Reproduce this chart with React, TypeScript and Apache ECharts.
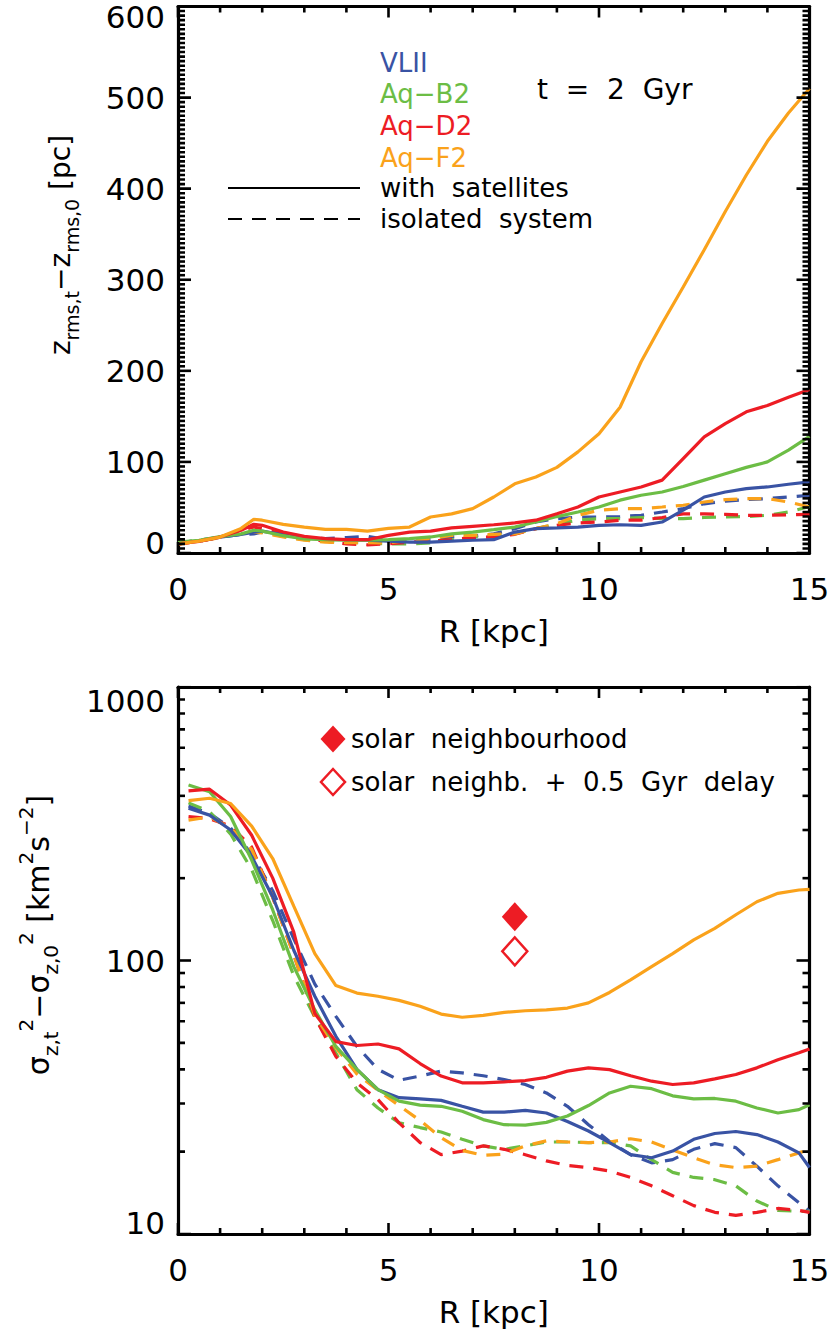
import { useEffect, useRef } from "react";
import * as echarts from "echarts";

// ---------- data ----------
const R_TOP = [0, 0.5, 1, 1.5, 1.8, 2, 2.5, 3, 3.5, 4, 4.5, 5, 5.5, 6, 6.5, 7, 7.5, 8, 8.5, 9, 9.5, 10, 10.5, 11, 11.5, 12, 12.5, 13, 13.5, 14, 14.5, 15];

const VLII_ZRMS_SAT = [11, 13, 17.5, 20.5, 23, 24, 20, 16.5, 15, 14.6, 14, 13, 12, 12, 13, 14, 14.6, 23, 26.7, 27.5, 28.5, 30.4, 31, 30.4, 34, 47, 61.5, 67, 70.7, 72.5, 75.5, 78];
const AQB2_ZRMS_SAT = [12, 14, 18, 21, 25, 24, 19, 15.4, 14.6, 14, 14, 14.6, 15.8, 17.6, 21, 23, 25.6, 28.5, 34, 40, 45, 50.5, 58, 63.4, 67, 73, 80, 87, 94, 100, 113, 128];
const AQD2_ZRMS_SAT = [10, 12.8, 17.5, 25, 31.5, 30.4, 23, 18.3, 15.8, 14.6, 14.6, 19.4, 23, 24, 27.5, 29.3, 31, 33, 36, 43, 50.5, 61.5, 67, 72.5, 80, 103.7, 127.5, 142, 155, 162, 171, 179.5];
const AQF2_ZRMS_SAT = [10, 13, 17.5, 27, 37, 36, 31.5, 28.5, 26, 26, 24, 27, 28.5, 39.5, 43, 48.7, 61.5, 76, 83.5, 94, 111, 131, 160, 210, 252, 292, 333, 375, 415, 452, 483, 510];

const VLII_ZRMS_ISO = [11, 14, 17.5, 20.5, 21, 23, 19.4, 17, 15.8, 17, 18.3, 14.6, 14, 14.6, 17.6, 18.3, 21, 26.7, 34, 37.7, 39.5, 39.5, 40, 41.4, 45, 48.7, 54, 57, 58.6, 59.7, 61.5, 63.4];
const AQB2_ZRMS_ISO = [11, 14, 17.5, 21, 24, 23, 18.3, 14.6, 13, 12, 11, 10, 10, 11, 14.6, 17.6, 19.4, 21, 26.7, 32, 36, 37.7, 37.7, 39, 37.7, 37.7, 39, 39.5, 40, 41.4, 45, 51];
const AQD2_ZRMS_ISO = [10, 13, 17.5, 25, 28.5, 26.7, 20.5, 15.8, 13, 10, 9, 10, 12, 13, 14.6, 17, 17.6, 20.5, 26.7, 30.4, 33, 34, 36, 36, 39, 43, 43, 42.5, 41.4, 41.4, 42, 42.5];
const AQF2_ZRMS_ISO = [9.5, 13, 17, 23, 23, 22, 17.6, 14, 12, 11.4, 11.4, 11, 14, 15.8, 19.4, 19.4, 20.5, 21, 26.7, 32, 41.4, 47, 48.7, 48.7, 50.5, 52.4, 56, 58.6, 59.7, 59.7, 56, 50.5];

const R_BOT = [0.25, 0.75, 1.25, 1.75, 2.25, 2.75, 3.25, 3.75, 4.25, 4.75, 5.25, 5.75, 6.25, 6.75, 7.25, 7.75, 8.25, 8.75, 9.25, 9.75, 10.25, 10.75, 11.25, 11.75, 12.25, 12.75, 13.25, 13.75, 14.25, 14.75, 15];

const VLII_SIG_SAT = [360, 340, 300, 240, 171, 109, 74, 52.8, 40, 33.7, 31.5, 31.2, 30.8, 29.3, 27.9, 27.9, 28.3, 27.7, 25.8, 23.8, 21.6, 19.5, 19, 20.1, 22.2, 23.3, 23.7, 23.1, 21.7, 19.8, 17.5];
const AQB2_SIG_SAT = [438, 414, 336, 233, 153, 95, 66, 48.5, 40, 33.7, 30.6, 29.6, 29.3, 28.1, 26.2, 25.1, 25, 25.6, 27, 29.5, 32.8, 34.7, 34, 32, 31.2, 31.3, 30.6, 28.9, 27.7, 28.5, 29.7];
const AQD2_SIG_SAT = [417, 423, 370, 287, 200, 127, 64, 50.5, 48.9, 49.5, 47.5, 42, 37.8, 35.7, 35.7, 36, 36.4, 37.4, 39.4, 40.5, 39.9, 37.9, 36.2, 35.2, 35.7, 36.9, 38.3, 40.5, 43.4, 46, 47.5];
const AQF2_SIG_SAT = [384, 392, 375, 310, 236, 158, 106, 81, 76, 74, 71.5, 68, 63.7, 62, 63, 64.6, 65.5, 66, 67, 70, 76.4, 85, 95, 106, 119, 131, 147, 164, 176, 181, 182];

const VLII_SIG_ISO = [367, 345, 305, 245, 180, 120, 82, 62.5, 48.5, 40, 36.5, 37.8, 39.4, 38.8, 37.9, 36.7, 35.2, 32.8, 29.3, 25.1, 21.8, 19.5, 18.2, 18.7, 20.4, 21.4, 20.7, 17.7, 15, 13, 12.1];
const AQB2_SIG_ISO = [377, 350, 290, 215, 140, 88, 62, 45.9, 33.7, 28.9, 25.5, 24.5, 23.6, 22.2, 21, 20.4, 21, 21.7, 21.7, 21.6, 21.6, 21, 18.7, 16.8, 16.1, 15.8, 15, 13.2, 12.2, 12.1, 12.1];
const AQD2_SIG_ISO = [336, 330, 310, 260, 170, 105, 62, 44.6, 35.7, 31, 25.5, 21.6, 19.5, 20.1, 21, 20.4, 19.5, 18.5, 17.8, 17.5, 17, 16.1, 15, 13.8, 12.7, 12, 11.7, 12, 12.4, 12.2, 12];
const AQF2_SIG_ISO = [326, 335, 305, 255, 170, 105, 63, 48, 38.5, 33.5, 29.5, 26, 22.5, 20.2, 19.4, 19.6, 21, 21.9, 21.7, 21.6, 21.7, 22.3, 21.7, 20.3, 19, 17.9, 17.5, 17.7, 18.7, 19.8, 20.4];

const SOLAR_R = 8;
const SOLAR_SIG = 144.5;
const SOLAR_DELAY_SIG = 108;

const X_MIN = 0;
const X_MAX = 15;
const X_MAJOR_TICKS = [0, 5, 10, 15];
const X_MINOR_TICKS = [1, 2, 3, 4, 6, 7, 8, 9, 11, 12, 13, 14];
const Y_TOP_MAX = 600;
const Y_TOP_INTERVAL = 100;
const Y_TOP_MAJOR_TICKS = [0, 100, 200, 300, 400, 500, 600];
const Y_TOP_MINOR_STEP = 5;
const Y_BOT_MIN = 10;
const Y_BOT_MAX = 1000;
const LOG_MAJOR_TICKS = [10, 100, 1000];
const LOG_MINOR_TICKS = [20, 30, 40, 50, 60, 70, 80, 90, 200, 300, 400, 500, 600, 700, 800, 900];

const SIM_NAMES = ["VLII", "Aq\u2212B2", "Aq\u2212D2", "Aq\u2212F2"];
const COLORS = ["#3953a4", "#6cbd45", "#ed1c24", "#faa21b"];

// ---------- layout / style ----------
const FONT = "DejaVu Sans";
const BLACK = "#000";
const DASH = [14, 10];
const GRID_W = 631.5;
const GRID_H = 547;
const MAJOR_LEN = 13;
const MINOR_LEN = 7;
const TICK_W = 2.6;

export default function App() {
  const ref = useRef<HTMLDivElement>(null);
  const dbg = useRef<HTMLDivElement>(null);

  useEffect(() => {
    if (!ref.current) return;
    const onErr = (ev: any) => {
      if (dbg.current) dbg.current.textContent = "err: " + String((ev && (ev.message || (ev.reason && ev.reason.message))) || ev);
    };
    window.addEventListener("error", onErr);
    window.addEventListener("unhandledrejection", onErr);

    const chart = echarts.init(ref.current, null, { renderer: "svg" });

    const pair = (xs: number[], ys: number[]) => xs.map((x, i) => [x, ys[i]]);

    const series: any[] = [];

    // ---- tick marks first: each one a two-point line placed through the axes' scales ----
    const yTopMinor: number[] = [];
    for (let v = 0; v <= Y_TOP_MAX; v += Y_TOP_MINOR_STEP) if (v % Y_TOP_INTERVAL !== 0) yTopMinor.push(v);

    const xPerPx = (X_MAX - X_MIN) / GRID_W;
    const yLinPerPx = Y_TOP_MAX / GRID_H;
    const decPerPx = Math.log10(Y_BOT_MAX / Y_BOT_MIN) / GRID_H;

    const tick = (gi: number, a: number[], b: number[]) =>
      series.push({
        type: "line",
        xAxisIndex: gi,
        yAxisIndex: gi,
        data: [a, b],
        showSymbol: false,
        symbol: "none",
        silent: true,
        lineStyle: { color: BLACK, width: TICK_W },
        z: 4,
      });

    const topX = (vals: number[], len: number) =>
      vals.forEach((v) => {
        tick(0, [v, 0], [v, len * yLinPerPx]);
        tick(0, [v, Y_TOP_MAX], [v, Y_TOP_MAX - len * yLinPerPx]);
      });
    const botX = (vals: number[], len: number) =>
      vals.forEach((v) => {
        tick(1, [v, Y_BOT_MIN], [v, Y_BOT_MIN * Math.pow(10, len * decPerPx)]);
        tick(1, [v, Y_BOT_MAX], [v, Y_BOT_MAX / Math.pow(10, len * decPerPx)]);
      });
    const sideY = (gi: number, vals: number[], len: number) =>
      vals.forEach((v) => {
        tick(gi, [X_MIN, v], [X_MIN + len * xPerPx, v]);
        tick(gi, [X_MAX, v], [X_MAX - len * xPerPx, v]);
      });

    topX(X_MAJOR_TICKS, MAJOR_LEN - 2);
    topX(X_MINOR_TICKS, MINOR_LEN - 1);
    sideY(0, Y_TOP_MAJOR_TICKS, MAJOR_LEN);
    sideY(0, yTopMinor, MINOR_LEN);
    botX(X_MAJOR_TICKS, MAJOR_LEN - 2);
    botX(X_MINOR_TICKS, MINOR_LEN - 1);
    sideY(1, LOG_MAJOR_TICKS, MAJOR_LEN);
    sideY(1, LOG_MINOR_TICKS, MINOR_LEN);

    // ---- curves ----
    const topSat = [VLII_ZRMS_SAT, AQB2_ZRMS_SAT, AQD2_ZRMS_SAT, AQF2_ZRMS_SAT];
    const topIso = [VLII_ZRMS_ISO, AQB2_ZRMS_ISO, AQD2_ZRMS_ISO, AQF2_ZRMS_ISO];
    const botSat = [VLII_SIG_SAT, AQB2_SIG_SAT, AQD2_SIG_SAT, AQF2_SIG_SAT];
    const botIso = [VLII_SIG_ISO, AQB2_SIG_ISO, AQD2_SIG_ISO, AQF2_SIG_ISO];

    const lineSeries = (data: any[], color: string, dashed: boolean, gi: number) => ({
      type: "line",
      xAxisIndex: gi,
      yAxisIndex: gi,
      data,
      showSymbol: false,
      symbol: "none",
      silent: true,
      lineStyle: { color, width: 3.2, type: dashed ? DASH : "solid" },
      z: dashed ? 2 : 3,
    });

    for (let i = 0; i < 4; i++) series.push(lineSeries(pair(R_TOP, topIso[i]), COLORS[i], true, 0));
    for (let i = 0; i < 4; i++) series.push(lineSeries(pair(R_TOP, topSat[i]), COLORS[i], false, 0));
    for (let i = 0; i < 4; i++) series.push(lineSeries(pair(R_BOT, botIso[i]), COLORS[i], true, 1));
    for (let i = 0; i < 4; i++) series.push(lineSeries(pair(R_BOT, botSat[i]), COLORS[i], false, 1));

    // ---- solar neighbourhood points (single-point line series with diamond symbols) ----
    series.push({
      type: "line",
      xAxisIndex: 1,
      yAxisIndex: 1,
      data: [[SOLAR_R, SOLAR_SIG]],
      symbol: "diamond",
      symbolSize: [26, 29],
      showSymbol: true,
      itemStyle: { color: COLORS[2] },
      lineStyle: { width: 0, opacity: 0 },
      silent: true,
      z: 5,
    });
    series.push({
      type: "line",
      xAxisIndex: 1,
      yAxisIndex: 1,
      data: [[SOLAR_R, SOLAR_DELAY_SIG]],
      symbol: "diamond",
      symbolSize: [25, 28],
      showSymbol: true,
      itemStyle: { color: "#fff", borderColor: COLORS[2], borderWidth: 2.5 },
      lineStyle: { width: 0, opacity: 0 },
      silent: true,
      z: 5,
    });

    const axisLine = { show: true, onZero: false, lineStyle: { color: BLACK, width: 3.2 } };
    const labelStyle = { color: BLACK, fontFamily: FONT, fontSize: 31 };

    const xAxisBase = (gridIndex: number) => ({
      type: "value",
      gridIndex,
      position: "bottom",
      min: X_MIN,
      max: X_MAX,
      interval: 5,
      axisLine,
      axisTick: { show: false },
      splitLine: { show: false },
      axisLabel: { show: true, ...labelStyle, margin: 20, formatter: (v: number) => String(v) },
      name: "R [kpc]",
      nameLocation: "middle",
      nameGap: 62,
      nameTextStyle: { ...labelStyle },
    });
    const xAxisTop = (gridIndex: number) => ({
      type: "value",
      gridIndex,
      position: "top",
      min: X_MIN,
      max: X_MAX,
      interval: 5,
      axisLine,
      axisTick: { show: false },
      splitLine: { show: false },
      axisLabel: { show: false },
    });

    const topYLabel = (v: number) => (v === Y_TOP_MAX ? "{t|" + v + "}" : v === 0 ? "{b|" + v + "}" : String(v));
    const botYLabel = (v: number) => (v >= 999 ? "{t|" + Math.round(v) + "}" : v <= 10.01 ? "{b|" + Math.round(v) + "}" : String(Math.round(v)));

    const yTop = {
      type: "value",
      gridIndex: 0,
      position: "left",
      min: 0,
      max: Y_TOP_MAX,
      interval: Y_TOP_INTERVAL,
      axisLine,
      axisTick: { show: false },
      splitLine: { show: false },
      axisLabel: {
        show: true,
        ...labelStyle,
        margin: 13,
        formatter: topYLabel,
        rich: {
          t: { ...labelStyle, padding: [20, 0, 0, 0] },
          b: { ...labelStyle, padding: [0, 0, 20, 0] },
        },
      },
    };
    const yTopRight = { type: "value", gridIndex: 0, position: "right", min: 0, max: Y_TOP_MAX, interval: Y_TOP_INTERVAL, axisLine, axisTick: { show: false }, splitLine: { show: false }, axisLabel: { show: false } };

    const yBot = {
      type: "log",
      logBase: 10,
      gridIndex: 1,
      position: "left",
      min: Y_BOT_MIN,
      max: Y_BOT_MAX,
      axisLine,
      axisTick: { show: false },
      splitLine: { show: false },
      axisLabel: {
        show: true,
        ...labelStyle,
        margin: 13,
        formatter: botYLabel,
        rich: {
          t: { ...labelStyle, padding: [28, 0, 0, 0] },
          b: { ...labelStyle, padding: [0, 0, 22, 0] },
        },
      },
    };
    const yBotRight = { type: "log", logBase: 10, gridIndex: 1, position: "right", min: Y_BOT_MIN, max: Y_BOT_MAX, axisLine, axisTick: { show: false }, splitLine: { show: false }, axisLabel: { show: false } };

    const titleRich = (main: number, small: number) => ({
      m: { fontFamily: FONT, fontSize: main, lineHeight: main * 1.5, verticalAlign: "middle", fill: BLACK, color: BLACK },
      s: { fontFamily: FONT, fontSize: small, lineHeight: small, verticalAlign: "bottom", fill: BLACK, color: BLACK },
      p: { fontFamily: FONT, fontSize: small, lineHeight: small, verticalAlign: "top", fill: BLACK, color: BLACK },
    });

    const legendText = (text: string, x: number, y: number, color: string, size = 26) => ({
      type: "text",
      x,
      y,
      silent: true,
      style: { text, fill: color, font: size + "px " + FONT, textAlign: "left", textVerticalAlign: "middle", align: "left", verticalAlign: "middle" },
      z: 20,
    });

    const diamond = (cx: number, cy: number, hw: number, hh: number) => [
      [cx, cy - hh],
      [cx + hw, cy],
      [cx, cy + hh],
      [cx - hw, cy],
    ];

    const option: any = {
      animation: false,
      backgroundColor: "#fff",
      grid: [
        { left: 178, top: 6.5, width: GRID_W, height: GRID_H - 0.5 },
        { left: 178, top: 687, width: GRID_W, height: GRID_H },
      ],
      xAxis: [xAxisBase(0), xAxisBase(1), xAxisTop(0), xAxisTop(1)],
      yAxis: [yTop, yBot, yTopRight, yBotRight],
      series,
      graphic: [
        {
          type: "text",
          x: 60,
          y: 245,
          rotation: Math.PI / 2,
          silent: true,
          style: {
            text: "{m|z}{s|rms,t}{m|\u2212z}{s|rms,0}{m| [pc]}",
            rich: titleRich(28, 19),
            textAlign: "center",
            textVerticalAlign: "middle",
            align: "center",
            verticalAlign: "middle",
          },
        },
        {
          type: "text",
          x: 38,
          y: 935,
          rotation: Math.PI / 2,
          silent: true,
          style: {
            text: "{m|\u03c3}{s|z,t}{p|2}{m|\u2212\u03c3}{s|z,0}{p|2}{m| [km}{p|2}{m|s}{p|\u22122}{m|]}",
            rich: titleRich(30, 20),
            textAlign: "center",
            textVerticalAlign: "middle",
            align: "center",
            verticalAlign: "middle",
          },
        },
        legendText(SIM_NAMES[0], 380, 63, COLORS[0]),
        legendText(SIM_NAMES[1], 380, 94, COLORS[1]),
        legendText(SIM_NAMES[2], 380, 126, COLORS[2]),
        legendText(SIM_NAMES[3], 380, 158, COLORS[3]),
        legendText("t  =  2  Gyr", 537, 89, BLACK, 28),
        { type: "line", silent: true, shape: { x1: 228, y1: 188, x2: 360, y2: 188 }, style: { stroke: BLACK, lineWidth: 2 } },
        legendText("with  satellites", 380, 188, BLACK),
        { type: "line", silent: true, shape: { x1: 228, y1: 219, x2: 360, y2: 219 }, style: { stroke: BLACK, lineWidth: 2, lineDash: [14, 10] } },
        legendText("isolated  system", 380, 219, BLACK),
        { type: "polygon", silent: true, shape: { points: diamond(333, 739, 12.5, 13.5) }, style: { fill: COLORS[2] } },
        legendText("solar  neighbourhood", 351, 739, BLACK),
        { type: "polygon", silent: true, shape: { points: diamond(333, 782, 12, 13) }, style: { fill: "#fff", stroke: COLORS[2], lineWidth: 2.5 } },
        legendText("solar  neighb.  +  0.5  Gyr  delay", 351, 782, BLACK),
      ],
    };

    try {
      chart.setOption(option);
    } catch (e: any) {
      if (dbg.current) dbg.current.textContent = "setOption: " + String(e && e.message);
    }

    return () => {
      window.removeEventListener("error", onErr);
      window.removeEventListener("unhandledrejection", onErr);
      chart.dispose();
    };
  }, []);

  return (
    <div>
      <div ref={ref} style={{ position: "absolute", left: 0, top: 0, width: 833, height: 1344, background: "#fff" }} />
      <div ref={dbg} style={{ position: "absolute", left: 0, top: 1330, width: 833, fontSize: 10, color: "#c00" }} />
    </div>
  );
}
